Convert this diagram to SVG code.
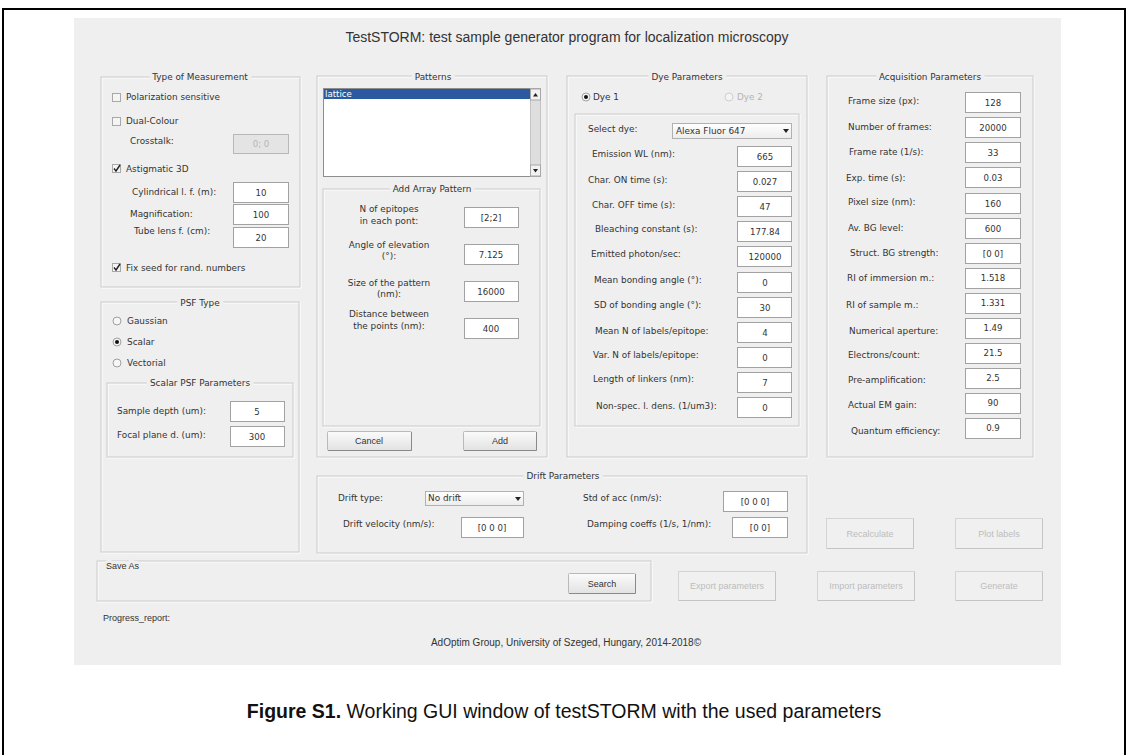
<svg xmlns="http://www.w3.org/2000/svg" width="1128" height="755" viewBox="0 0 1128 755">
  <style>
    .win { fill: #efefef; }
    .lbl { font-family: "DejaVu Sans", "Liberation Sans", sans-serif; font-size: 8.9px; fill: #333; }
    .lblc { font-family: "DejaVu Sans", "Liberation Sans", sans-serif; font-size: 8.9px; fill: #333; text-anchor: middle; }
    .val { font-family: "DejaVu Sans", "Liberation Sans", sans-serif; font-size: 8.6px; fill: #333; text-anchor: middle; }
    .dis { fill: #b4b4b4; }
    .ptitle { font-family: "DejaVu Sans", "Liberation Sans", sans-serif; font-size: 8.9px; fill: #333; text-anchor: middle;
              paint-order: stroke; stroke: #efefef; stroke-width: 8px; stroke-linejoin: round; }
    .pdark { fill: none; stroke: #cbcbcb; stroke-width: 1; }
    .plight { fill: none; stroke: #ffffff; stroke-width: 1; }
    .edit { fill: #ffffff; stroke: #a2a2a2; stroke-width: 1; }
    .editoff { fill: #e4e4e4; stroke: #b8b8b8; stroke-width: 1; }
    .chk { fill: #f4f4f4; stroke: #a8a8a8; stroke-width: 1; }
    .tick { fill: none; stroke: #222; stroke-width: 1.4; }
    .radio { fill: #f6f6f6; stroke: #a0a0a0; stroke-width: 1; }
    .radiooff { fill: #f4f4f4; stroke: #cfcfcf; stroke-width: 1; }
    .btn { fill: url(#btnGrad); stroke: #b9b9b9; stroke-width: 1; }
    .btnsh { fill: none; stroke: #8a8a8a; stroke-width: 1; }
    .btnoff { fill: #f0f0f0; stroke: #d4d4d4; stroke-width: 1; }
    .btnoffsh { fill: none; stroke: #c4c4c4; stroke-width: 1; }
    .btxt { font-family: "Liberation Sans", "DejaVu Sans", sans-serif; font-size: 9px; fill: #333; text-anchor: middle; }
    .btxtoff { font-family: "Liberation Sans", "DejaVu Sans", sans-serif; font-size: 9px; fill: #bdbdbd; text-anchor: middle; }
    .pop { fill: url(#popGrad); stroke: #b0b0b0; stroke-width: 1; }
    .arrow { fill: #222; }
  </style>
  <defs>
    <linearGradient id="btnGrad" x1="0" y1="0" x2="0" y2="1">
      <stop offset="0" stop-color="#fbfbfb"/>
      <stop offset="1" stop-color="#e2e2e2"/>
    </linearGradient>
    <linearGradient id="popGrad" x1="0" y1="0" x2="0" y2="1">
      <stop offset="0" stop-color="#ffffff"/>
      <stop offset="1" stop-color="#ececec"/>
    </linearGradient>
  </defs>

  <!-- page background and figure frame -->
  <rect x="0" y="0" width="1128" height="755" fill="#ffffff"/>
  <rect x="3" y="9" width="1122" height="760" fill="none" stroke="#000" stroke-width="2"/>

  <!-- application window -->
  <rect class="win" x="74" y="18" width="987" height="647"/>
  <text x="567" y="42" font-family="Liberation Sans, DejaVu Sans, sans-serif" font-size="14" fill="#333" text-anchor="middle">TestSTORM: test sample generator program for localization microscopy</text>

  <!-- Type of Measurement -->
  <g id="type-of-measurement">
    <rect class="plight" x="102" y="78" width="199" height="210"/>
    <rect class="pdark" x="101" y="77" width="199" height="210"/>
    <text class="ptitle" x="200" y="80">Type of Measurement</text>
    <rect class="chk" x="112.5" y="93.5" width="8" height="8"/>
    <text class="lbl" x="126" y="100">Polarization sensitive</text>
    <rect class="chk" x="112.5" y="117.5" width="8" height="8"/>
    <text class="lbl" x="126" y="124">Dual-Colour</text>
    <text class="lbl" x="130" y="144">Crosstalk:</text>
    <rect class="editoff" x="233.5" y="134.5" width="55" height="19"/>
    <text class="val dis" x="261" y="147">0; 0</text>
    <rect class="chk" x="112.5" y="164.5" width="8" height="8"/>
    <path class="tick" d="M114 168.5 L116 171 L120 165"/>
    <text class="lbl" x="126" y="172">Astigmatic 3D</text>
    <text class="lbl" x="132" y="195">Cylindrical l. f. (m):</text>
    <rect class="edit" x="233.5" y="182.5" width="55" height="20"/>
    <text class="val" x="261" y="196">10</text>
    <text class="lbl" x="130" y="217">Magnification:</text>
    <rect class="edit" x="233.5" y="204.5" width="55" height="20"/>
    <text class="val" x="261" y="218">100</text>
    <text class="lbl" x="134" y="234">Tube lens f. (cm):</text>
    <rect class="edit" x="233.5" y="227.5" width="55" height="20"/>
    <text class="val" x="261" y="241">20</text>
    <rect class="chk" x="112.5" y="263.5" width="8" height="8"/>
    <path class="tick" d="M114 267.5 L116 270 L120 264"/>
    <text class="lbl" x="126" y="271">Fix seed for rand. numbers</text>
  </g>

  <!-- PSF Type -->
  <g id="psf-type">
    <rect class="plight" x="102" y="303" width="198" height="250"/>
    <rect class="pdark" x="101" y="302" width="198" height="250"/>
    <text class="ptitle" x="200" y="306">PSF Type</text>
    <circle class="radio" cx="117" cy="321" r="4"/>
    <text class="lbl" x="127" y="324">Gaussian</text>
    <circle class="radio" cx="117" cy="342" r="4"/>
    <circle cx="117" cy="342" r="2" fill="#111"/>
    <text class="lbl" x="127" y="345">Scalar</text>
    <circle class="radio" cx="117" cy="363" r="4"/>
    <text class="lbl" x="127" y="366">Vectorial</text>
    <rect class="plight" x="108" y="384" width="186" height="74"/>
    <rect class="pdark" x="107" y="383" width="186" height="74"/>
    <text class="ptitle" x="200" y="386">Scalar PSF Parameters</text>
    <text class="lbl" x="117" y="414">Sample depth (um):</text>
    <rect class="edit" x="230.5" y="401.5" width="54" height="20"/>
    <text class="val" x="257" y="415">5</text>
    <text class="lbl" x="117" y="438">Focal plane d. (um):</text>
    <rect class="edit" x="230.5" y="426.5" width="54" height="20"/>
    <text class="val" x="257" y="440">300</text>
  </g>

  <!-- Patterns -->
  <g id="patterns">
    <rect class="plight" x="318" y="77" width="230" height="381"/>
    <rect class="pdark" x="317" y="76" width="230" height="381"/>
    <text class="ptitle" x="433" y="80">Patterns</text>
    <rect x="323.5" y="88.5" width="217" height="88" fill="#fff" stroke="#8e8e8e"/>
    <rect x="324" y="89" width="206" height="10" fill="#2b5aa0"/>
    <text x="325" y="97" font-family="DejaVu Sans, sans-serif" font-size="8.6" fill="#fff">lattice</text>
    <rect x="530.5" y="89" width="10" height="87" fill="#dedede" stroke="#c4c4c4"/>
    <rect x="530.5" y="89" width="10" height="11" fill="#f2f2f2" stroke="#a8a8a8"/>
    <path class="arrow" d="M533 96.5 L538 96.5 L535.5 93 Z"/>
    <rect x="530.5" y="165" width="10" height="11" fill="#f2f2f2" stroke="#a8a8a8"/>
    <path class="arrow" d="M533 169 L538 169 L535.5 172.5 Z"/>

    <rect class="plight" x="324" y="190" width="217" height="237"/>
    <rect class="pdark" x="323" y="189" width="217" height="237"/>
    <text class="ptitle" x="432" y="192">Add Array Pattern</text>
    <text class="lblc" x="389" y="212">N of epitopes</text>
    <text class="lblc" x="389" y="224">in each pont:</text>
    <rect class="edit" x="464.5" y="207.5" width="54" height="20"/>
    <text class="val" x="491" y="221">[2;2]</text>
    <text class="lblc" x="389" y="248">Angle of elevation</text>
    <text class="lblc" x="389" y="259">(°):</text>
    <rect class="edit" x="464.5" y="244.5" width="54" height="20"/>
    <text class="val" x="491" y="258">7.125</text>
    <text class="lblc" x="389" y="286">Size of the pattern</text>
    <text class="lblc" x="389" y="297">(nm):</text>
    <rect class="edit" x="464.5" y="281.5" width="54" height="20"/>
    <text class="val" x="491" y="295">16000</text>
    <text class="lblc" x="389" y="317">Distance between</text>
    <text class="lblc" x="389" y="329">the points (nm):</text>
    <rect class="edit" x="464.5" y="318.5" width="54" height="20"/>
    <text class="val" x="491" y="332">400</text>

    <rect class="btn" x="327.5" y="431.5" width="84" height="19" rx="1"/>
    <path class="btnsh" d="M328 450.5 H411.5 V432"/>
    <text class="btxt" x="369" y="444">Cancel</text>
    <rect class="btn" x="463.5" y="431.5" width="73" height="19" rx="1"/>
    <path class="btnsh" d="M464 450.5 H536.5 V432"/>
    <text class="btxt" x="500" y="444">Add</text>
  </g>

  <!-- Dye Parameters -->
  <g id="dye-parameters">
    <rect class="plight" x="568" y="77" width="240" height="381"/>
    <rect class="pdark" x="567" y="76" width="240" height="381"/>
    <text class="ptitle" x="687" y="80">Dye Parameters</text>
    <circle class="radio" cx="586" cy="97" r="4"/>
    <circle cx="586" cy="97" r="2" fill="#111"/>
    <text class="lbl" x="593" y="100">Dye 1</text>
    <circle class="radiooff" cx="729" cy="97" r="4"/>
    <text class="lbl dis" x="737" y="100">Dye 2</text>

    <rect class="plight" x="576" y="115" width="224" height="312"/>
    <rect class="pdark" x="575" y="114" width="224" height="312"/>
    <text class="lbl" x="588" y="132">Select dye:</text>
    <rect class="pop" x="672.5" y="123.5" width="119" height="15"/>
    <text class="lbl" x="676" y="134">Alexa Fluor 647</text>
    <path class="arrow" d="M783 129 L789 129 L786 133 Z"/>

    <text class="lbl" x="592" y="157">Emission WL (nm):</text>
    <rect class="edit" x="737.5" y="146.5" width="54" height="20"/>
    <text class="val" x="765" y="160">665</text>
    <text class="lbl" x="588" y="183">Char. ON time (s):</text>
    <rect class="edit" x="737.5" y="171.5" width="54" height="20"/>
    <text class="val" x="765" y="185">0.027</text>
    <text class="lbl" x="592" y="208">Char. OFF time (s):</text>
    <rect class="edit" x="737.5" y="196.5" width="54" height="20"/>
    <text class="val" x="765" y="210">47</text>
    <text class="lbl" x="595" y="232">Bleaching constant (s):</text>
    <rect class="edit" x="737.5" y="221.5" width="54" height="20"/>
    <text class="val" x="765" y="235">177.84</text>
    <text class="lbl" x="591" y="257">Emitted photon/sec:</text>
    <rect class="edit" x="737.5" y="246.5" width="54" height="20"/>
    <text class="val" x="765" y="260">120000</text>
    <text class="lbl" x="594" y="283">Mean bonding angle (°):</text>
    <rect class="edit" x="737.5" y="272.5" width="54" height="20"/>
    <text class="val" x="765" y="286">0</text>
    <text class="lbl" x="594" y="308">SD of bonding angle (°):</text>
    <rect class="edit" x="737.5" y="297.5" width="54" height="20"/>
    <text class="val" x="765" y="311">30</text>
    <text class="lbl" x="595" y="334">Mean N of labels/epitope:</text>
    <rect class="edit" x="737.5" y="322.5" width="54" height="20"/>
    <text class="val" x="765" y="336">4</text>
    <text class="lbl" x="593" y="358">Var. N of labels/epitope:</text>
    <rect class="edit" x="737.5" y="347.5" width="54" height="20"/>
    <text class="val" x="765" y="361">0</text>
    <text class="lbl" x="593" y="382">Length of linkers (nm):</text>
    <rect class="edit" x="737.5" y="372.5" width="54" height="20"/>
    <text class="val" x="765" y="386">7</text>
    <text class="lbl" x="596" y="409">Non-spec. l. dens. (1/um3):</text>
    <rect class="edit" x="737.5" y="397.5" width="54" height="20"/>
    <text class="val" x="765" y="411">0</text>
  </g>

  <!-- Acquisition Parameters -->
  <g id="acquisition-parameters">
    <rect class="plight" x="828" y="77" width="206" height="381"/>
    <rect class="pdark" x="827" y="76" width="206" height="381"/>
    <text class="ptitle" x="930" y="80">Acquisition Parameters</text>
    <text class="lbl" x="848" y="104">Frame size (px):</text>
    <rect class="edit" x="965.5" y="92.5" width="55" height="20"/>
    <text class="val" x="993" y="106">128</text>
    <text class="lbl" x="848" y="130">Number of frames:</text>
    <rect class="edit" x="965.5" y="117.5" width="55" height="20"/>
    <text class="val" x="993" y="131">20000</text>
    <text class="lbl" x="849" y="155">Frame rate (1/s):</text>
    <rect class="edit" x="965.5" y="142.5" width="55" height="20"/>
    <text class="val" x="993" y="156">33</text>
    <text class="lbl" x="846" y="181">Exp. time (s):</text>
    <rect class="edit" x="965.5" y="167.5" width="55" height="20"/>
    <text class="val" x="993" y="181">0.03</text>
    <text class="lbl" x="848" y="205">Pixel size (nm):</text>
    <rect class="edit" x="965.5" y="193.5" width="55" height="20"/>
    <text class="val" x="993" y="207">160</text>
    <text class="lbl" x="848" y="231">Av. BG level:</text>
    <rect class="edit" x="965.5" y="218.5" width="55" height="20"/>
    <text class="val" x="993" y="232">600</text>
    <text class="lbl" x="850" y="256">Struct. BG strength:</text>
    <rect class="edit" x="965.5" y="243.5" width="55" height="20"/>
    <text class="val" x="993" y="257">[0 0]</text>
    <text class="lbl" x="847" y="281">RI of immersion m.:</text>
    <rect class="edit" x="965.5" y="268.5" width="55" height="20"/>
    <text class="val" x="993" y="281">1.518</text>
    <text class="lbl" x="846" y="308">RI of sample m.:</text>
    <rect class="edit" x="965.5" y="293.5" width="55" height="20"/>
    <text class="val" x="993" y="306">1.331</text>
    <text class="lbl" x="849" y="334">Numerical aperture:</text>
    <rect class="edit" x="965.5" y="318.5" width="55" height="20"/>
    <text class="val" x="993" y="331">1.49</text>
    <text class="lbl" x="848" y="358">Electrons/count:</text>
    <rect class="edit" x="965.5" y="343.5" width="55" height="20"/>
    <text class="val" x="993" y="356">21.5</text>
    <text class="lbl" x="848" y="383">Pre-amplification:</text>
    <rect class="edit" x="965.5" y="368.5" width="55" height="20"/>
    <text class="val" x="993" y="381">2.5</text>
    <text class="lbl" x="848" y="408">Actual EM gain:</text>
    <rect class="edit" x="965.5" y="393.5" width="55" height="20"/>
    <text class="val" x="993" y="406">90</text>
    <text class="lbl" x="851" y="434">Quantum efficiency:</text>
    <rect class="edit" x="965.5" y="418.5" width="55" height="20"/>
    <text class="val" x="993" y="431">0.9</text>
  </g>

  <!-- Drift Parameters -->
  <g id="drift-parameters">
    <rect class="plight" x="318" y="477" width="490" height="77"/>
    <rect class="pdark" x="317" y="476" width="490" height="77"/>
    <text class="ptitle" x="563" y="479">Drift Parameters</text>
    <text class="lbl" x="338" y="501">Drift type:</text>
    <rect class="pop" x="425.5" y="491.5" width="98" height="14"/>
    <text class="lbl" x="428" y="501">No drift</text>
    <path class="arrow" d="M515 497 L521 497 L518 501 Z"/>
    <text class="lbl" x="343" y="527">Drift velocity (nm/s):</text>
    <rect class="edit" x="461.5" y="517.5" width="62" height="20"/>
    <text class="val" x="492" y="531">[0 0 0]</text>
    <text class="lbl" x="583" y="501">Std of acc (nm/s):</text>
    <rect class="edit" x="723.5" y="491.5" width="64" height="20"/>
    <text class="val" x="755" y="505">[0 0 0]</text>
    <text class="lbl" x="587" y="527">Damping coeffs (1/s, 1/nm):</text>
    <rect class="edit" x="732.5" y="517.5" width="55" height="20"/>
    <text class="val" x="760" y="531">[0 0]</text>
  </g>

  <!-- Recalculate / Plot labels -->
  <g id="recalculate">
    <rect class="btnoff" x="826.5" y="518.5" width="87" height="30"/>
    <path class="btnoffsh" d="M827 548.5 H913.5 V519"/>
    <text class="btxtoff" x="870" y="537">Recalculate</text>
  </g>
  <g id="plot-labels">
    <rect class="btnoff" x="955.5" y="518.5" width="87" height="30"/>
    <path class="btnoffsh" d="M956 548.5 H1042.5 V519"/>
    <text class="btxtoff" x="999" y="537">Plot labels</text>
  </g>

  <!-- Save As -->
  <g id="save-as">
    <rect class="plight" x="98" y="562" width="554" height="40"/>
    <rect class="pdark" x="97" y="561" width="554" height="40"/>
    <text x="106" y="569" font-family="Liberation Sans, DejaVu Sans, sans-serif" font-size="9" fill="#333" paint-order="stroke" stroke="#efefef" stroke-width="6">Save As</text>
    <rect class="btn" x="568.5" y="573.5" width="67" height="20" rx="1"/>
    <path class="btnsh" d="M569 593.5 H635.5 V574"/>
    <text class="btxt" x="602" y="587">Search</text>
  </g>

  <g id="export-parameters">
    <rect class="btnoff" x="678.5" y="571.5" width="97" height="29"/>
    <path class="btnoffsh" d="M679 600.5 H775.5 V572"/>
    <text class="btxtoff" x="727" y="589">Export parameters</text>
  </g>
  <g id="import-parameters">
    <rect class="btnoff" x="817.5" y="571.5" width="97" height="29"/>
    <path class="btnoffsh" d="M818 600.5 H914.5 V572"/>
    <text class="btxtoff" x="866" y="589">Import parameters</text>
  </g>
  <g id="generate">
    <rect class="btnoff" x="955.5" y="571.5" width="87" height="29"/>
    <path class="btnoffsh" d="M956 600.5 H1042.5 V572"/>
    <text class="btxtoff" x="999" y="589">Generate</text>
  </g>

  <text x="103" y="621" font-family="Liberation Sans, DejaVu Sans, sans-serif" font-size="9" fill="#333">Progress_report:</text>
  <text x="566" y="646" font-family="Liberation Sans, DejaVu Sans, sans-serif" font-size="10" fill="#333" text-anchor="middle">AdOptim Group, University of Szeged, Hungary, 2014-2018©</text>

  <!-- caption -->
  <text x="564" y="718" font-family="Liberation Sans, DejaVu Sans, sans-serif" font-size="19.5" fill="#111" text-anchor="middle"><tspan font-weight="bold">Figure S1.</tspan> Working GUI window of testSTORM with the used parameters</text>
</svg>
